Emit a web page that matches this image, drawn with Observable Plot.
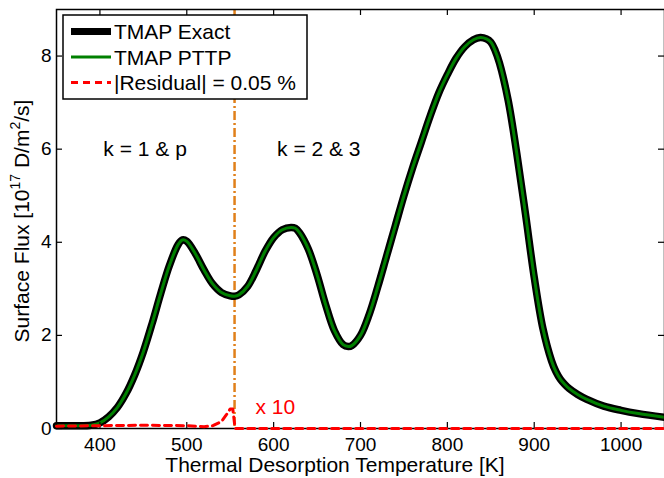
<!DOCTYPE html>
<html><head><meta charset="utf-8">
<script src="https://cdn.jsdelivr.net/npm/d3@7"></script>
<script src="https://cdn.jsdelivr.net/npm/@observablehq/plot@0.6"></script>
<style>
body{margin:0;background:#fff}
svg{display:block}
</style>
</head><body><div id="chart"></div>
<script>
// ---- data ----
const temperature = [350,370,390,400,410,420,430,440,450,460,470,480,490,495,500,510,520,530,540,550,555,560,570,580,590,600,610,620,625,630,640,650,660,670,680,686,690,700,710,720,730,740,750,760,770,780,790,800,810,820,830,838,845,850,855,860,870,880,890,900,910,920,925,930,935,940,950,960,980,1000,1020,1050];
const flux = [0.06,0.06,0.07,0.12,0.25,0.45,0.75,1.15,1.65,2.25,2.9,3.5,3.95,4.05,4.02,3.75,3.4,3.1,2.92,2.85,2.84,2.87,3.05,3.4,3.8,4.1,4.27,4.32,4.3,4.2,3.85,3.3,2.65,2.1,1.8,1.76,1.78,2.0,2.45,3.05,3.7,4.35,5.0,5.6,6.15,6.7,7.2,7.6,7.95,8.2,8.35,8.4,8.37,8.3,8.12,7.85,7.05,5.9,4.6,3.25,2.15,1.45,1.22,1.06,0.95,0.86,0.73,0.63,0.48,0.39,0.32,0.24];
const resTemperature = [350,400,450,500,520,530,540,545,550,553,555,556,600,700,800,900,1000,1050];
const residual = [0.05,0.06,0.07,0.06,0.04,0.06,0.15,0.28,0.42,0.42,0.1,0.0,0,0,0,0,0,0];
const xTicks = [400,500,600,700,800,900,1000];
const yTicks = [0,2,4,6,8];
const boundaryT = [555];
const legendLabels = ["TMAP Exact","TMAP PTTP","|Residual| = 0.05 %"];
const regionLabels = ["k = 1 & p","k = 2 & 3"];
const regionT = [452,652];
const regionV = [6.0,6.0];
const scaleNote = ["x 10"];
const scaleNoteT = [579];
const scaleNoteV = [0.45];
const xTitle = "Thermal Desorption Temperature [K]";

const curve = temperature.map((t,i)=>({t, v: flux[i]}));
const res = resTemperature.map((t,i)=>({t, v: residual[i]}));
const regions = regionLabels.map((l,i)=>({l, t: regionT[i], v: regionV[i]}));
const notes = scaleNote.map((l,i)=>({l, t: scaleNoteT[i], v: scaleNoteV[i]}));

const W = 664, H = 478, mL = 56, mR = 0, mT = 9, mB = 50;
const fw = W - mL - mR, fh = H - mT - mB, tk = 6;
const font = "'Liberation Sans', Arial, Helvetica, sans-serif";
const big = 21;

const plot = Plot.plot({
  width: W, height: H,
  marginLeft: mL, marginRight: mR, marginTop: mT, marginBottom: mB,
  style: {fontFamily: font, background: "#fff", color: "#000"},
  x: {domain: [350,1050]},
  y: {domain: [0,9]},
  marks: [
    Plot.ruleX(boundaryT, {x: d=>d, stroke: "#e0801a", strokeWidth: 2.5, strokeDasharray: "9,3,2,3"}),
    Plot.line(curve, {x: "t", y: "v", stroke: "#000", strokeWidth: 7.5, curve: "catmull-rom"}),
    Plot.line(curve, {x: "t", y: "v", stroke: "#008000", strokeWidth: 3, curve: "catmull-rom"}),
    // inward ticks on all four sides
    Plot.ruleX(xTicks, {x: d=>d, insetTop: fh - tk, stroke: "#000", strokeWidth: 1.2}),
    Plot.ruleX(xTicks, {x: d=>d, insetBottom: fh - tk, stroke: "#000", strokeWidth: 1.2}),
    Plot.ruleY(yTicks, {y: d=>d, insetRight: fw - tk, stroke: "#000", strokeWidth: 1.2}),
    Plot.ruleY(yTicks, {y: d=>d, insetLeft: fw - tk, stroke: "#000", strokeWidth: 1.2}),
    Plot.frame({stroke: "#000", strokeWidth: 1.5}),
    Plot.line(res, {x: "t", y: "v", stroke: "#ff0000", strokeWidth: 3, strokeDasharray: "7,5", curve: "linear"}),
    Plot.text(regions, {x: "t", y: "v", text: "l", fontSize: big, fill: "#000"}),
    Plot.text(notes, {x: "t", y: "v", text: "l", fontSize: big, fill: "#ff0000", textAnchor: "start"}),
    Plot.axisX(xTicks, {tickSize: 0, tickPadding: 9, fontSize: 19, label: null, tickFormat: d => String(d)}),
    Plot.axisY(yTicks, {tickSize: 0, tickPadding: 5, fontSize: 19, label: null, tickFormat: d => String(d)})
  ]
});
document.getElementById("chart").appendChild(plot);

const svg = d3.select(plot);
// x title
svg.append("text").attr("x", 335).attr("y", 472).attr("text-anchor","middle")
  .attr("font-family", font).attr("font-size", big).attr("fill","#000").text(xTitle);
// y title with superscripts
const yt = svg.append("text").attr("transform","translate(29,221) rotate(-90)")
  .attr("text-anchor","middle").attr("font-family", font).attr("font-size", big).attr("fill","#000");
yt.append("tspan").text("Surface Flux [10");
yt.append("tspan").attr("font-size", 14).attr("dy", -9).text("17");
yt.append("tspan").attr("dy", 9).text(" D/m");
yt.append("tspan").attr("font-size", 14).attr("dy", -9).text("2");
yt.append("tspan").attr("dy", 9).text("/s]");

// legend
const lg = svg.append("g").attr("text-anchor","start");
lg.append("rect").attr("x",63).attr("y",15).attr("width",244).attr("height",84)
  .attr("fill","#fff").attr("stroke","#000").attr("stroke-width",1.5);
const styles = [
  {stroke:"#000", w:7, dash:null},
  {stroke:"#008000", w:3, dash:null},
  {stroke:"#ff0000", w:3, dash:"7,5"}
];
legendLabels.forEach((lab,i)=>{
  const y = 31.5 + i*25.5;
  const ln = lg.append("line").attr("x1",71).attr("x2",111).attr("y1",y).attr("y2",y)
    .attr("stroke",styles[i].stroke).attr("stroke-width",styles[i].w);
  if (styles[i].dash) ln.attr("stroke-dasharray", styles[i].dash);
  lg.append("text").attr("x",114).attr("y",y).attr("dy","0.36em").attr("text-anchor","start")
    .attr("font-family",font).attr("font-size",big).attr("fill","#000").text(lab);
});
</script>
</body></html>
